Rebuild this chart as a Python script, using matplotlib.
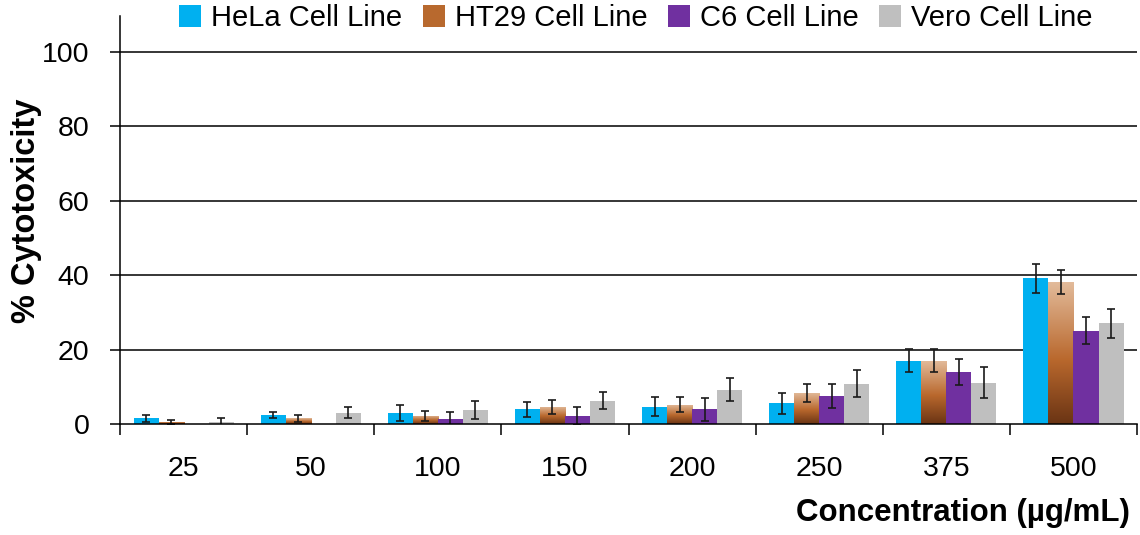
import numpy as np
import matplotlib
matplotlib.use("Agg")
import matplotlib.pyplot as plt
from matplotlib.colors import LinearSegmentedColormap
from matplotlib.patches import Patch

plt.rcParams['font.family'] = ['Liberation Sans', 'DejaVu Sans']

# Data
concentrations = ["25", "50", "100", "150", "200", "250", "375", "500"]
series = ["HeLa Cell Line", "HT29 Cell Line", "C6 Cell Line", "Vero Cell Line"]

hela = [1.6, 2.6, 3.1, 4.0, 4.7, 5.6, 17.1, 39.2]
ht29 = [0.7, 1.6, 2.2, 4.7, 5.3, 8.4, 17.1, 38.2]
c6 = [0.0, 0.0, 1.3, 2.2, 4.0, 7.5, 14.0, 25.1]
vero = [0.7, 3.1, 3.8, 6.3, 9.3, 10.9, 11.2, 27.1]

hela_err = [0.9, 0.8, 2.2, 2.1, 2.6, 2.7, 3.0, 3.9]
ht29_err = [0.5, 0.9, 1.4, 1.8, 2.0, 2.3, 3.0, 3.3]
c6_err = [0.0, 0.0, 2.0, 2.4, 3.1, 3.2, 3.4, 3.6]
vero_err = [1.1, 1.5, 2.4, 2.3, 3.1, 3.6, 4.2, 3.8]

values = [hela, ht29, c6, vero]
errors = [hela_err, ht29_err, c6_err, vero_err]
colors = ['#00B0F0', '#B8692E', '#7030A0', '#BFBFBF']

# brown gradient used by the HT29 bars (dark at bottom, light tan at top)
brown = LinearSegmentedColormap.from_list(
    "brown", [(0.0, '#6A3414'), (0.45, '#B9682D'), (1.0, '#E3BC9C')])

fig = plt.figure(figsize=(11.4, 5.35), dpi=100)
ax = fig.add_axes([0.1053, 0.2069, 0.8921, 0.7632])

x = np.arange(len(concentrations))
width = 0.197
offsets = (np.arange(4) - 1.5) * width

grad = np.linspace(0, 1, 256).reshape(-1, 1)
for i in range(4):
    bars = ax.bar(x + offsets[i], values[i], width, color=colors[i],
                  linewidth=0, zorder=2)
    if i == 1:
        for b in bars:
            if b.get_height() <= 0:
                continue
            b.set_facecolor('none')
            im = ax.imshow(grad, cmap=brown, origin='lower', aspect='auto',
                           extent=[b.get_x(), b.get_x() + b.get_width(),
                                   0, b.get_height()], zorder=2)
            im.set_clip_path(b)
    v = np.array(values[i])
    e = np.array(errors[i])
    keep = v > 0
    ax.errorbar((x + offsets[i])[keep], v[keep], yerr=e[keep], fmt='none',
                ecolor='#1a1a1a', elinewidth=1.2, capsize=2.8, capthick=1.2,
                zorder=3)

ax.set_xlim(-0.5, len(concentrations) - 0.5)
ax.set_ylim(0, 109.6)
ax.set_yticks([0, 20, 40, 60, 80, 100])
ax.set_xticks(x)
ax.set_xticklabels(concentrations)
ax.set_xticks(np.arange(-0.5, len(concentrations)), minor=True)

ax.tick_params(axis='x', which='major', length=0, pad=23, labelsize=20.5)
ax.tick_params(axis='x', which='minor', length=8, width=1.1, direction='out', color='black')
ax.tick_params(axis='y', length=7, width=1.1, direction='out', labelsize=20.5, pad=15)

for y in [20, 40, 60, 80, 100]:
    ax.axhline(y, color='black', linewidth=1.1, zorder=1)

for s in ['top', 'right']:
    ax.spines[s].set_visible(False)
for s in ['left', 'bottom']:
    ax.spines[s].set_linewidth(1.1)
    ax.spines[s].set_color('black')
ax.spines['bottom'].set_zorder(4)

ax.set_ylabel("% Cytotoxicity", fontsize=23.5, fontweight='bold')
ax.yaxis.set_label_coords(-0.0767, 0.524)

fig.text(1130 / 1140, 1 - 513 / 535, "Concentration (\u00b5g/mL)", ha='right',
         va='center', fontsize=22.5, fontweight='bold')

handles = [Patch(facecolor=c, edgecolor='none') for c in colors]
fig.legend(handles, series, loc='center', bbox_to_anchor=(0.558, 0.966),
           ncol=4, frameon=False, fontsize=21, handlelength=0.75, handleheight=0.75,
           handletextpad=0.35, columnspacing=0.7, borderaxespad=0)

fig.savefig("out.png", dpi=100)
